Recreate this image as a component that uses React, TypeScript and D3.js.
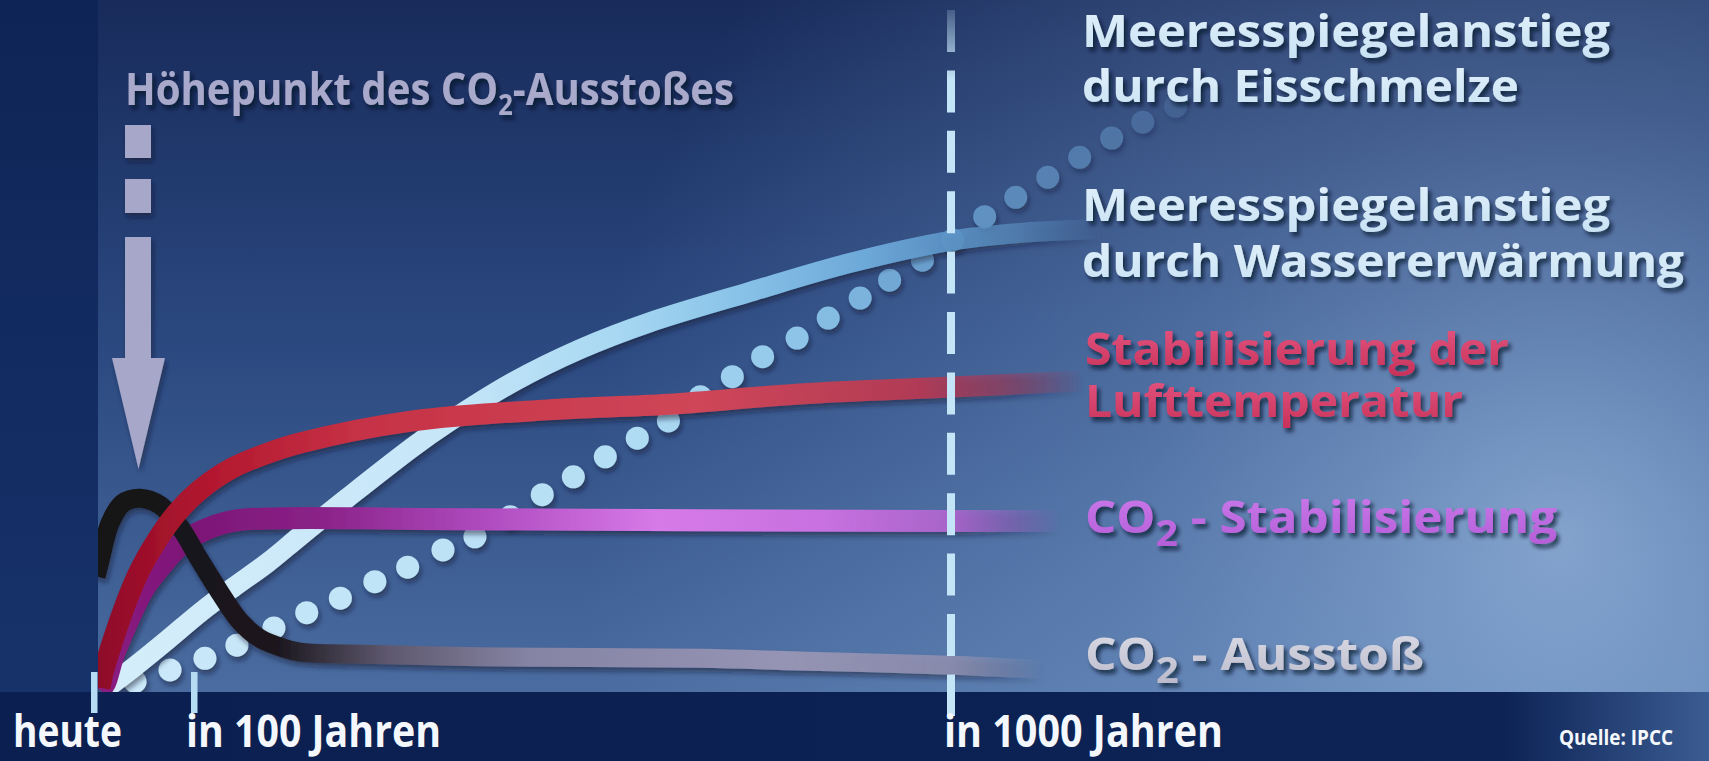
import React from "react";
import * as d3 from "d3";

const W = 1709;
const H = 761;

// x: years from today, y: relative level (0 = baseline, 100 = top of graphic)
const tickYears = [0, 100, 1000];
const tickLabels = ["heute", "in 100 Jahren", "in 1000 Jahren"];

const emissionYears = [2, 6, 16, 29, 46, 66, 86, 107, 131, 155, 178, 206, 226, 285, 464, 702, 820, 1000, 1106];
const emissionValues = [16.5, 18.8, 24.2, 27.1, 27.8, 26.8, 23.6, 18.8, 14.1, 9.9, 7.5, 6.1, 5.5, 5.2, 4.8, 4.6, 4.2, 3.6, 3.0];

const airTempYears = [6, 9, 19, 33, 46, 63, 83, 107, 146, 187, 226, 360, 520, 664, 820, 1000, 1154];
const airTempValues = [0.3, 2.5, 7.2, 13.0, 17.4, 21.7, 25.7, 29.0, 32.2, 34.3, 35.8, 39.0, 40.6, 41.4, 42.9, 43.9, 44.8];

const co2StabYears = [6, 11, 19, 33, 49, 66, 86, 107, 146, 206, 364, 702, 1000, 1130];
const co2StabValues = [0, 1.0, 4.8, 9.7, 14.5, 17.8, 21.0, 22.9, 24.5, 24.9, 24.8, 24.6, 24.5, 24.5];

const warmingYears = [10, 39, 73, 107, 146, 187, 226, 282, 360, 401, 479, 559, 642, 761, 880, 999, 1078, 1177];
const warmingValues = [0, 3.2, 7.2, 11.2, 14.8, 18.4, 22.3, 27.8, 35.2, 38.7, 44.6, 49.4, 53.3, 57.7, 61.9, 65.1, 66.2, 66.8];

const iceMeltYears = [41, 76, 113, 151, 195, 234, 274, 315, 354, 396, 434, 476, 514, 551, 589, 627, 664, 702, 740, 776, 817, 854, 892, 927, 966, 1002, 1040, 1077, 1115, 1153, 1191, 1228, 1267];
const iceMeltValues = [1.2, 2.9, 4.6, 6.5, 9.0, 11.2, 13.3, 15.7, 17.8, 20.3, 22.2, 25.1, 28.3, 30.9, 33.8, 36.5, 39.0, 42.5, 45.4, 48.3, 51.0, 53.9, 56.8, 59.4, 62.3, 65.2, 68.6, 71.4, 74.3, 77.2, 80.0, 82.3, 84.6];

const titleText = "Höhepunkt des CO₂-Ausstoßes";
const seriesLabelLines = [
  "Meeresspiegelanstieg",
  "durch Eisschmelze",
  "Meeresspiegelanstieg",
  "durch Wassererwärmung",
  "Stabilisierung der",
  "Lufttemperatur",
  "CO₂ - Stabilisierung",
  "CO₂ - Ausstoß",
];
const sourceText = "Quelle: IPCC";

const FONT = "'Open Sans', 'Noto Sans', 'DejaVu Sans', sans-serif";

const x = d3.scaleLinear().domain(tickYears).range([94, 194, 951]);
const y = d3.scaleLinear().domain([0, 100]).range([690, 0]);

const line = d3
  .line<[number, number]>()
  .x((d) => x(d[0]))
  .y((d) => y(d[1]))
  .curve(d3.curveCatmullRom.alpha(0.5));

const zip = (a: number[], b: number[]) => a.map((v, i) => [v, b[i]] as [number, number]);

const GX0 = 94;
const GX1 = 1220;

type Stop = [number, string, number];
function HGrad({ id, stops }: { id: string; stops: Stop[] }) {
  return (
    <linearGradient id={id} gradientUnits="userSpaceOnUse" x1={GX0} x2={GX1} y1={0} y2={0}>
      {stops.map((s, i) => (
        <stop key={i} offset={(x(s[0]) - GX0) / (GX1 - GX0)} stopColor={s[1]} stopOpacity={s[2]} />
      ))}
    </linearGradient>
  );
}

function rich(str: string, subSize: number, subDy: number) {
  const parts = str.split("₂");
  if (parts.length === 1) return str;
  return [
    <tspan key="a">{parts[0]}</tspan>,
    <tspan key="b" fontSize={subSize} dy={subDy}>
      2
    </tspan>,
    <tspan key="c" dy={-subDy}>
      {parts[1]}
    </tspan>,
  ];
}

export default function App() {
  const dotColor = d3
    .scaleLinear<string>()
    .domain([0, 600, 800, 950, 1100, 1270])
    .range(["#cdeafa", "#b4def4", "#92c8ea", "#6ea6d4", "#6294c6", "#5e8cbe"]);
  const dotOpacity = d3.scaleLinear().domain([0, 900, 1050, 1200, 1270]).range([1, 1, 0.85, 0.55, 0.25]);

  const labelLayout = [
    { x: 1082, y: 47, len: 528, fill: "url(#txtBlue)" },
    { x: 1082, y: 102, len: 437, fill: "url(#txtBlue)" },
    { x: 1082, y: 221, len: 528, fill: "url(#txtBlue)" },
    { x: 1082, y: 277, len: 602, fill: "url(#txtBlue)" },
    { x: 1085, y: 365, len: 424, fill: "url(#txtRed)" },
    { x: 1085, y: 417, len: 378, fill: "url(#txtRed)" },
    { x: 1085, y: 533, len: 472, fill: "url(#txtPurple)" },
    { x: 1085, y: 670, len: 339, fill: "url(#txtGray)" },
  ];
  const tickLayout = [
    { x: 13, len: 109 },
    { x: 186, len: 255 },
    { x: 944, len: 279 },
  ];

  return (
    <svg
      width={W}
      height={H}
      viewBox={`0 0 ${W} ${H}`}
      style={{ position: "absolute", left: 0, top: 0, display: "block" }}
    >
      <defs>
        <linearGradient id="bgV" gradientUnits="userSpaceOnUse" x1={0} y1={0} x2={0} y2={692}>
          <stop offset={0} stopColor="#182b5b" />
          <stop offset={0.5} stopColor="#2b4980" />
          <stop offset={1} stopColor="#4a6ca0" />
        </linearGradient>
        <radialGradient id="bgR" gradientUnits="userSpaceOnUse" cx={1560} cy={540} r={980}>
          <stop offset={0} stopColor="#a8c8ec" stopOpacity={0.66} />
          <stop offset={0.45} stopColor="#8cb0dc" stopOpacity={0.33} />
          <stop offset={1} stopColor="#8cb0dc" stopOpacity={0} />
        </radialGradient>
        <linearGradient id="strip" x1={0} y1={0} x2={0} y2={1}>
          <stop offset={0} stopColor="#0f2456" />
          <stop offset={1} stopColor="#17346c" />
        </linearGradient>
        <linearGradient id="band" gradientUnits="userSpaceOnUse" x1={0} y1={0} x2={W} y2={0}>
          <stop offset={0} stopColor="#0b1f50" />
          <stop offset={0.88} stopColor="#0d2355" />
          <stop offset={1} stopColor="#3b5c92" />
        </linearGradient>
        <linearGradient id="dash" gradientUnits="userSpaceOnUse" x1={0} y1={0} x2={0} y2={80}>
          <stop offset={0} stopColor="#c4e4f8" stopOpacity={0.1} />
          <stop offset={1} stopColor="#c4e4f8" stopOpacity={1} />
        </linearGradient>
        <HGrad
          id="gRed"
          stops={[
            [0, "#8c0a28", 1],
            [120, "#b3182f", 1],
            [300, "#c63246", 1],
            [700, "#cf4658", 1],
            [960, "#b63a54", 0.95],
            [1060, "#a23a5a", 0.6],
            [1160, "#a23a5a", 0],
          ]}
        />
        <HGrad
          id="gPurple"
          stops={[
            [0, "#8c1c82", 1],
            [100, "#7c1676", 1],
            [250, "#8a2288", 1],
            [450, "#b04cc0", 1],
            [650, "#d67ae8", 1],
            [850, "#c870e0", 1],
            [1000, "#b066d0", 0.9],
            [1130, "#a060c8", 0],
          ]}
        />
        <HGrad
          id="gGray"
          stops={[
            [0, "#141216", 1],
            [200, "#1c181f", 1],
            [330, "#5e586e", 1],
            [500, "#8684a4", 1],
            [800, "#9694b4", 1],
            [1000, "#9090b0", 0.85],
            [1110, "#9090b0", 0],
          ]}
        />
        <HGrad
          id="gBlue"
          stops={[
            [0, "#d6eefb", 1],
            [400, "#c6e6f8", 1],
            [600, "#a8d8f2", 1],
            [750, "#88c2e8", 1],
            [900, "#6ca8d8", 1],
            [1000, "#5c94c8", 0.9],
            [1080, "#5a8ec0", 0.65],
            [1180, "#5a8ec0", 0],
          ]}
        />
        <linearGradient id="txtBlue" x1={0} y1={0} x2={0} y2={1}>
          <stop offset={0} stopColor="#e4f2fb" />
          <stop offset={1} stopColor="#c8e2f4" />
        </linearGradient>
        <linearGradient id="txtRed" x1={0} y1={0} x2={0} y2={1}>
          <stop offset={0} stopColor="#e85a86" />
          <stop offset={1} stopColor="#c63058" />
        </linearGradient>
        <linearGradient id="txtPurple" x1={0} y1={0} x2={0} y2={1}>
          <stop offset={0} stopColor="#cc7cec" />
          <stop offset={1} stopColor="#b058d4" />
        </linearGradient>
        <linearGradient id="txtGray" x1={0} y1={0} x2={0} y2={1}>
          <stop offset={0} stopColor="#e0e0ea" />
          <stop offset={1} stopColor="#b4b4c6" />
        </linearGradient>
        <filter id="sh" filterUnits="userSpaceOnUse" x={0} y={0} width={W} height={H}>
          <feDropShadow dx={2} dy={4} stdDeviation={2.5} floodColor="#07122c" floodOpacity={0.5} />
        </filter>
        <filter id="tsh" filterUnits="userSpaceOnUse" x={0} y={0} width={W} height={H}>
          <feDropShadow dx={3} dy={4} stdDeviation={2.2} floodColor="#050d24" floodOpacity={0.7} />
        </filter>
      </defs>

      {/* background */}
      <rect x={0} y={0} width={W} height={H} fill="url(#bgV)" />
      <rect x={0} y={0} width={W} height={692} fill="url(#bgR)" />

      {/* ice melt: dotted */}
      <g filter="url(#sh)">
        {zip(iceMeltYears, iceMeltValues).map((d, i) => (
          <circle
            key={i}
            cx={x(d[0])}
            cy={y(d[1])}
            r={11.5}
            fill={dotColor(d[0])}
            fillOpacity={dotOpacity(d[0])}
          />
        ))}
      </g>

      {/* curves */}
      <g fill="none" strokeLinecap="butt" strokeLinejoin="round" filter="url(#sh)">
        <path d={line(zip(warmingYears, warmingValues)) ?? ""} stroke="url(#gBlue)" strokeWidth={20} />
        <path d={line(zip(co2StabYears, co2StabValues)) ?? ""} stroke="url(#gPurple)" strokeWidth={22} />
        <path d={line(zip(emissionYears, emissionValues)) ?? ""} stroke="url(#gGray)" strokeWidth={19} />
        <path d={line(zip(airTempYears, airTempValues)) ?? ""} stroke="url(#gRed)" strokeWidth={21} />
      </g>

      {/* left strip and bottom band */}
      <rect x={0} y={0} width={98} height={H} fill="url(#strip)" />
      <rect x={0} y={692} width={W} height={H - 692} fill="url(#band)" />

      {/* 1000-year dashed marker */}
      <line
        x1={x(1000)}
        x2={x(1000)}
        y1={10}
        y2={716}
        stroke="url(#dash)"
        strokeWidth={8}
        strokeDasharray="42 18.4"
      />

      {/* ticks */}
      {tickYears.slice(0, 2).map((t) => (
        <rect key={t} x={x(t) - 3} y={672} width={6.5} height={41} fill="#b6dcf4" />
      ))}

      {/* tick labels */}
      {tickLabels.map((t, i) => (
        <text
          key={t}
          x={tickLayout[i].x}
          y={747}
          fontFamily={FONT}
          fontWeight={700}
          fontSize={44}
          fill="#f4f8fc"
          textLength={tickLayout[i].len}
          lengthAdjust="spacingAndGlyphs"
        >
          {t}
        </text>
      ))}
      <text
        x={1559}
        y={745}
        fontFamily={FONT}
        fontWeight={700}
        fontSize={22}
        fill="#f4f8fc"
        textLength={114}
        lengthAdjust="spacingAndGlyphs"
      >
        {sourceText}
      </text>

      {/* peak arrow */}
      <g fill="#a6a7c9" filter="url(#sh)">
        <rect x={125} y={125} width={26} height={33} />
        <rect x={125} y={179} width={26} height={34} />
        <rect x={125} y={237} width={26} height={122} />
        <path d="M112,358 L165,358 L138.5,469 Z" />
      </g>
      <text
        x={125}
        y={105}
        fontFamily={FONT}
        fontWeight={700}
        fontSize={44}
        fill="#a9aacb"
        filter="url(#tsh)"
        textLength={609}
        lengthAdjust="spacingAndGlyphs"
      >
        {rich(titleText, 28, 10)}
      </text>

      {/* series labels */}
      {seriesLabelLines.map((t, i) => (
        <text
          key={i}
          x={labelLayout[i].x}
          y={labelLayout[i].y}
          fontFamily={FONT}
          fontWeight={700}
          fontSize={45}
          fill={labelLayout[i].fill}
          filter="url(#tsh)"
          textLength={labelLayout[i].len}
          lengthAdjust="spacingAndGlyphs"
        >
          {rich(t, 36, 13)}
        </text>
      ))}
    </svg>
  );
}
